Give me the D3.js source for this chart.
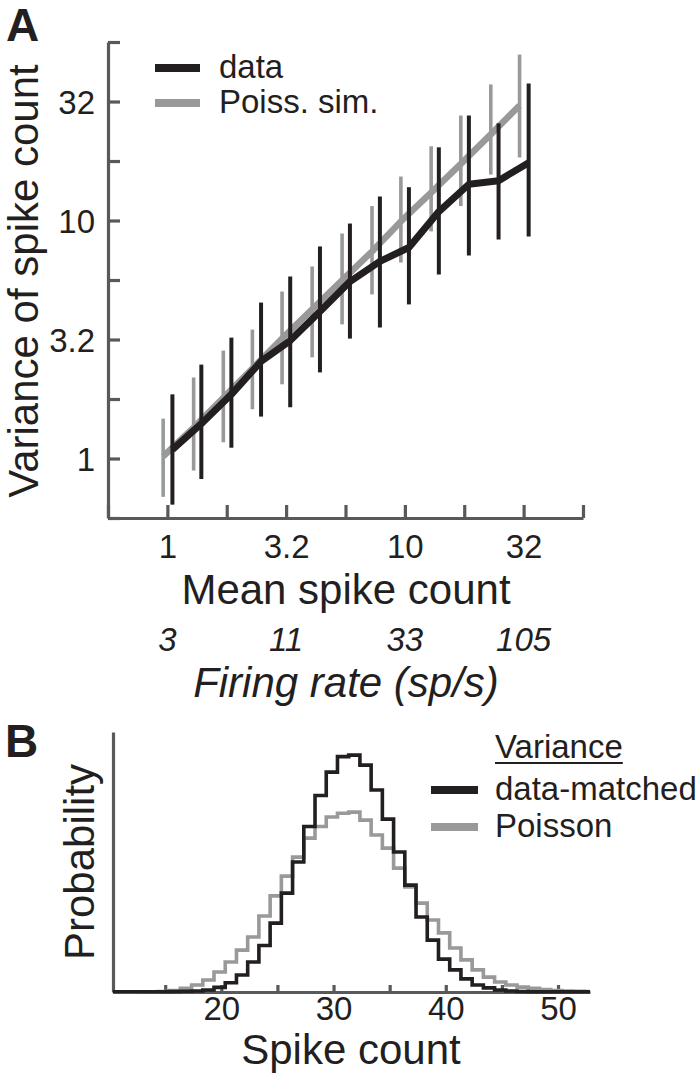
<!DOCTYPE html>
<html>
<head>
<meta charset="utf-8">
<script src="https://cdn.jsdelivr.net/npm/d3@7"></script>
<style>
  html, body { margin: 0; padding: 0; background: #fff; }
  svg { display: block; }
  text { font-family: "Liberation Sans", Arial, Helvetica, sans-serif; fill: #231f20; }
</style>
</head>
<body>
<script>
// ---------- Panel A data ----------
const meanTickValues = [1, 3.162, 10, 31.62];
const meanTickLabels = ["1", "3.2", "10", "32"];
const firingRateLabels = ["3", "11", "33", "105"];
const quarterDecadeTicks = [0.5623, 1, 1.778, 3.162, 5.623, 10, 17.78, 31.62, 56.23];
const varTickValues = [1, 3.162, 10, 31.62];
const varTickLabels = ["1", "3.2", "10", "32"];

const dataMean  = [1.05, 1.39, 1.86, 2.48, 3.29, 4.39, 5.87, 7.85, 10.4, 13.9, 18.6, 24.8, 33.2];
const dataVar   = [1.09, 1.40, 1.86, 2.56, 3.13, 4.15, 5.54, 6.73, 7.70, 10.9, 14.2, 14.7, 17.5];
const dataVarLo = [0.64, 0.82, 1.11, 1.50, 1.64, 2.30, 3.19, 3.55, 4.44, 5.93, 7.13, 8.32, 8.57];
const dataVarHi = [1.86, 2.48, 3.22, 4.52, 5.82, 7.78, 9.71, 12.6, 13.8, 20.3, 27.6, 25.6, 37.6];

const simMean  = [0.96, 1.29, 1.72, 2.28, 3.04, 4.07, 5.44, 7.27, 9.62, 12.9, 17.2, 23.0, 30.4];
const simVar   = [1.02, 1.35, 1.80, 2.39, 3.19, 4.23, 5.60, 7.41, 9.91, 13.1, 17.3, 23.0, 30.4];
const simVarLo = [0.69, 0.89, 1.17, 1.61, 2.05, 2.66, 3.66, 4.89, 6.66, 9.00, 11.5, 15.6, 18.4];
const simVarHi = [1.47, 2.19, 2.84, 3.48, 5.03, 6.41, 8.82, 11.5, 15.3, 20.5, 27.6, 37.3, 49.8];

// ---------- Panel B data ----------
const spikeCountBins = [10, 11, 12, 13, 14, 15, 16, 17, 18, 19, 20, 21, 22, 23, 24, 25, 26, 27, 28, 29, 30,
                        31, 32, 33, 34, 35, 36, 37, 38, 39, 40, 41, 42, 43, 44, 45, 46, 47, 48, 49, 50, 51, 52];
const probDataMatched = [0.0001, 0.0001, 0.0001, 0.0001, 0.0001, 0.0002, 0.0003, 0.0004, 0.0008, 0.0018,
                         0.0036, 0.0066, 0.0117, 0.0181, 0.0268, 0.0385, 0.0506, 0.0644, 0.0765, 0.0856,
                         0.0916, 0.0922, 0.0883, 0.0786, 0.0673, 0.0545, 0.0416, 0.0292, 0.0202, 0.0128,
                         0.0086, 0.0051, 0.0027, 0.0016, 0.0008, 0.0004, 0.0002, 0.0001, 0.0001, 0.0001,
                         0.0001, 0.0001, 0.0001];
const probPoisson = [0.0000, 0.0000, 0.0001, 0.0001, 0.0002, 0.0006, 0.0014, 0.0027, 0.0047, 0.0078,
                     0.0117, 0.0163, 0.0214, 0.0296, 0.0374, 0.0451, 0.0525, 0.0599, 0.0644, 0.0681,
                     0.0696, 0.0700, 0.0669, 0.0611, 0.0560, 0.0482, 0.0409, 0.0346, 0.0280, 0.0230,
                     0.0171, 0.0125, 0.0086, 0.0058, 0.0039, 0.0027, 0.0019, 0.0014, 0.0010, 0.0006,
                     0.0004, 0.0003, 0.0002];
const spikeTickValues = [15, 20, 25, 30, 35, 40, 45, 50];
const spikeTickLabeled = [20, 30, 40, 50];

// ---------- styles ----------
const BLACK = "#231f20", GRAY = "#999999", AXIS = "#58595b";

const svg = d3.select("body").append("svg").attr("width", 700).attr("height", 1087);
svg.append("rect").attr("width", 700).attr("height", 1087).attr("fill", "#fff");

// ================= PANEL A =================
const xA = d3.scaleLog().domain([Math.pow(10, -0.25), Math.pow(10, 1.75)]).range([108, 583]);
const yA = d3.scaleLog().domain([Math.pow(10, -0.25), Math.pow(10, 1.75)]).range([518, 42]);

const gA = svg.append("g");

// y axis
const yAxisA = d3.axisLeft(yA).tickValues(quarterDecadeTicks).tickSizeInner(-12).tickSizeOuter(0)
  .tickPadding(13).tickFormat(d => { const i = varTickValues.indexOf(d); return i >= 0 ? varTickLabels[i] : ""; });
const gyA = gA.append("g").attr("transform", "translate(108,0)").call(yAxisA);
gyA.selectAll("path, line").attr("stroke", AXIS).attr("stroke-width", 3.2);
gyA.selectAll("text").attr("font-size", 33).attr("fill", BLACK).attr("font-family", "Liberation Sans, Arial, sans-serif").attr("dy", "0.35em");

// x axis
const xAxisA = d3.axisBottom(xA).tickValues(quarterDecadeTicks).tickSizeInner(-13).tickSizeOuter(0)
  .tickPadding(0).tickFormat(d => { const i = meanTickValues.indexOf(d); return i >= 0 ? meanTickLabels[i] : ""; });
const gxA = gA.append("g").attr("transform", "translate(0,518)").call(xAxisA);
gxA.selectAll("path, line").attr("stroke", AXIS).attr("stroke-width", 3.2);
gxA.selectAll("text").attr("font-size", 33).attr("fill", BLACK).attr("font-family", "Liberation Sans, Arial, sans-serif")
  .attr("y", 40).attr("dy", 0);

// firing-rate labels
gA.selectAll("text.fr").data(meanTickValues).join("text").attr("class", "fr")
  .attr("x", d => xA(d)).attr("y", 651).attr("text-anchor", "middle")
  .attr("font-size", 33).attr("font-style", "italic")
  .text((d, i) => firingRateLabels[i]);

// axis titles
gA.append("text").attr("x", 346).attr("y", 604).attr("text-anchor", "middle").attr("font-size", 42).text("Mean spike count");
gA.append("text").attr("x", 346).attr("y", 697).attr("text-anchor", "middle").attr("font-size", 42)
  .attr("font-style", "italic").text("Firing rate (sp/s)");
gA.append("text").attr("transform", "translate(38,281) rotate(-90)").attr("text-anchor", "middle")
  .attr("font-size", 42).text("Variance of spike count");
gA.append("text").attr("x", 6).attr("y", 41).attr("font-size", 46).attr("font-weight", "bold").text("A");

// series
const simIdx = d3.range(simMean.length);
const dataIdx = d3.range(dataMean.length);
gA.selectAll("line.simbar").data(simIdx).join("line").attr("class", "simbar")
  .attr("x1", i => xA(simMean[i])).attr("x2", i => xA(simMean[i]))
  .attr("y1", i => yA(simVarLo[i])).attr("y2", i => yA(simVarHi[i]))
  .attr("stroke", GRAY).attr("stroke-width", 3.6);
gA.append("path").datum(simIdx)
  .attr("d", d3.line().x(i => xA(simMean[i])).y(i => yA(simVar[i])))
  .attr("fill", "none").attr("stroke", GRAY).attr("stroke-width", 6.5).attr("stroke-linejoin", "round");
gA.selectAll("line.databar").data(dataIdx).join("line").attr("class", "databar")
  .attr("x1", i => xA(dataMean[i])).attr("x2", i => xA(dataMean[i]))
  .attr("y1", i => yA(dataVarLo[i])).attr("y2", i => yA(dataVarHi[i]))
  .attr("stroke", BLACK).attr("stroke-width", 4);
gA.append("path").datum(dataIdx)
  .attr("d", d3.line().x(i => xA(dataMean[i])).y(i => yA(dataVar[i])))
  .attr("fill", "none").attr("stroke", BLACK).attr("stroke-width", 7).attr("stroke-linejoin", "round");

// legend A
const legA = [{ label: "data", color: BLACK }, { label: "Poiss. sim.", color: GRAY }];
legA.forEach((d, i) => {
  const y = 68 + i * 35;
  gA.append("line").attr("x1", 155).attr("x2", 200).attr("y1", y).attr("y2", y)
    .attr("stroke", d.color).attr("stroke-width", 8);
  gA.append("text").attr("x", 219).attr("y", y + 10).attr("font-size", 33).text(d.label);
});

// ================= PANEL B =================
const BIN_SHIFT = 0.35;
const xB = d3.scaleLinear().domain([10.35, 52.85]).range([113, 590]);
const yB = d3.scaleLinear().domain([0, 0.1012]).range([992, 732]);
const gB = svg.append("g");

gB.append("defs").append("clipPath").attr("id", "clipB").append("rect")
  .attr("x", 113).attr("y", 700).attr("width", 477).attr("height", 300);

function stepPoints(probs) {
  const pts = spikeCountBins.map((k, i) => [k + BIN_SHIFT, probs[i]]);
  pts.push([spikeCountBins[spikeCountBins.length - 1] + 1 + BIN_SHIFT, probs[probs.length - 1]]);
  return pts;
}
const stepLine = d3.line().x(d => xB(d[0])).y(d => yB(d[1])).curve(d3.curveStepAfter);

// axes B
const xAxisB = d3.axisBottom(xB).tickValues(spikeTickValues).tickSizeInner(-7).tickSizeOuter(0)
  .tickFormat(d => spikeTickLabeled.includes(d) ? String(d) : "");
const gxB = gB.append("g").attr("transform", "translate(0,992)").call(xAxisB);
gxB.selectAll("path, line").attr("stroke", AXIS).attr("stroke-width", 3.2);
gxB.selectAll("text").attr("font-size", 33).attr("fill", BLACK).attr("font-family", "Liberation Sans, Arial, sans-serif")
  .attr("y", 28).attr("dy", 0);
const yAxisB = d3.axisLeft(yB).tickValues([]).tickSizeOuter(0);
const gyB = gB.append("g").attr("transform", "translate(113,0)").call(yAxisB);
gyB.selectAll("path").attr("stroke", AXIS).attr("stroke-width", 3.2);

gB.append("path").datum(stepPoints(probPoisson)).attr("d", stepLine).attr("clip-path", "url(#clipB)")
  .attr("fill", "none").attr("stroke", GRAY).attr("stroke-width", 3.6);
gB.append("path").datum(stepPoints(probDataMatched)).attr("d", stepLine).attr("clip-path", "url(#clipB)")
  .attr("fill", "none").attr("stroke", BLACK).attr("stroke-width", 3.6);

gB.append("text").attr("x", 351).attr("y", 1064).attr("text-anchor", "middle").attr("font-size", 42).text("Spike count");
gB.append("text").attr("transform", "translate(94,862) rotate(-90)").attr("text-anchor", "middle")
  .attr("font-size", 42).text("Probability");
gB.append("text").attr("x", 5).attr("y", 757).attr("font-size", 46).attr("font-weight", "bold").text("B");

// legend B
const legTitle = gB.append("text").attr("x", 495).attr("y", 758).attr("font-size", 33).text("Variance");
const tb = legTitle.node().getBBox();
gB.append("line").attr("x1", tb.x).attr("x2", tb.x + tb.width).attr("y1", 763).attr("y2", 763)
  .attr("stroke", BLACK).attr("stroke-width", 2);
const legB = [{ label: "data-matched", color: BLACK }, { label: "Poisson", color: GRAY }];
legB.forEach((d, i) => {
  const y = 790 + i * 37;
  gB.append("line").attr("x1", 431).attr("x2", 478).attr("y1", y).attr("y2", y)
    .attr("stroke", d.color).attr("stroke-width", 8);
  gB.append("text").attr("x", 495).attr("y", y + 10).attr("font-size", 33).text(d.label);
});
</script>
</body>
</html>
